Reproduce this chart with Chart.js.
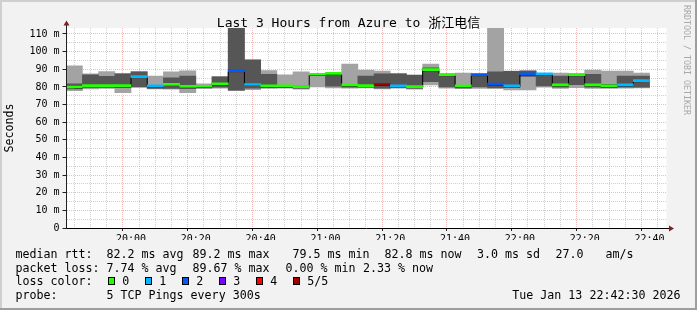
<!DOCTYPE html>
<html><head><meta charset="utf-8"><title>Last 3 Hours from Azure to 浙江电信</title>
<style>
    body { margin: 0; background: #fff; }
    #wrap {
        position: relative;
        width: 697px;
        height: 310px;
        background: #f2f2f2;
        font-family: "DejaVu Sans Mono", monospace;
        color: #000;
        overflow: hidden;
    }
    #chartBox { position: absolute; left: 0; top: 0; width: 697px; height: 310px; }
    .edge { position: absolute; }
    .title {
        position: absolute; left: 0; top: 16px; width: 697px;
        text-align: center; font-size: 13px; line-height: 13px;
        font-family: "DejaVu Sans Mono", "Noto Sans CJK SC", monospace;
        white-space: pre;
    }
    .side {
        position: absolute; left: 682px; top: 5px;
        writing-mode: vertical-rl; font-size: 8.3px; line-height: 9px;
        color: #a8a8a8; white-space: pre;
    }
    .row { position: absolute; left: 0; width: 697px; height: 14px; font-size: 11.65px; line-height: 14px; }
    .row span { position: absolute; top: 0; white-space: pre; }
    .row .box { top: 3px; width: 5px; height: 6px; border: 1px solid #000; }
</style>
<script src="https://cdn.jsdelivr.net/npm/chart.js"></script>
</head>
<body>
<div id="wrap">
    <div id="chartBox"><canvas id="smoke"></canvas></div>
    <div class="title">Last 3 Hours from Azure to 浙江电信</div>
    <div class="side">RRDTOOL / TOBI OETIKER</div>
    <div class="row" style="top:246.7px">
        <span style="left:15.5px">median rtt:</span>
        <span style="left:106.5px">82.2 ms avg</span>
        <span style="left:192.5px">89.2 ms max</span>
        <span style="left:292.5px">79.5 ms min</span>
        <span style="left:384.5px">82.8 ms now</span>
        <span style="left:477px">3.0 ms sd</span>
        <span style="left:555.5px">27.0</span>
        <span style="left:605.5px">am/s</span>
    </div>
    <div class="row" style="top:260.6px">
        <span style="left:15.5px">packet loss:</span>
        <span style="left:106.5px">7.74 % avg</span>
        <span style="left:192.5px">89.67 % max</span>
        <span style="left:285.5px">0.00 % min</span>
        <span style="left:363px">2.33 % now</span>
    </div>
    <div class="row" id="lossRow" style="top:274.4px">
        <span style="left:15.5px">loss color:</span>
    </div>
    <div class="row" style="top:288.3px">
        <span style="left:15.5px">probe:</span>
        <span style="left:106.5px">5 TCP Pings every 300s</span>
        <span style="right:16.5px">Tue Jan 13 22:42:30 2026</span>
    </div>
    <div class="edge" style="left:0;top:0;width:697px;height:2px;background:#cfcfcf"></div>
    <div class="edge" style="left:0;top:0;width:2px;height:310px;background:#cfcfcf"></div>
    <div class="edge" style="left:0;top:308px;width:697px;height:2px;background:#9e9e9e"></div>
    <div class="edge" style="left:695px;top:0;width:2px;height:310px;background:#9e9e9e"></div>
</div>

<script>
// 5 minute slots (start time of each step)
const slots = [
    '19:40', '19:45', '19:50', '19:55', '20:00', '20:05', '20:10', '20:15', '20:20',
    '20:25', '20:30', '20:35', '20:40', '20:45', '20:50', '20:55', '21:00', '21:05',
    '21:10', '21:15', '21:20', '21:25', '21:30', '21:35', '21:40', '21:45', '21:50',
    '21:55', '22:00', '22:05', '22:10', '22:15', '22:20', '22:25', '22:30', '22:35'
];

// sorted ping values per slot (ms)
const pingMin = [77.9, 78.9, 79.1, 76.8, 79.8, 78.9, 78.7, 76.8, 79.2, 79.3, 77.9, 78.5,
                 79.2, 79.3, 78.7, 80.0, 79.4, 79.3, 79.4, 78.8, 79.3, 78.7, 81.1, 79.3,
                 79.0, 79.1, 79.0, 78.3, 78.3, 79.8, 79.2, 79.6, 79.2, 79.2, 79.3, 79.4];
const pingQ1  = [78.8, 79.7, 79.7, 79.5, 80.0, 79.2, 79.2, 79.0, 79.4, 79.8, 78.2, 79.3,
                 79.6, 79.6, 79.3, 86.4, 80.4, 79.8, 79.8, 79.3, 79.8, 79.3, 83.0, 80.0,
                 79.4, 80.0, 79.6, 79.5, 86.0, 80.6, 79.8, 81.3, 79.8, 79.6, 79.8, 79.8];
const pingMed = [79.4, 80.2, 80.2, 80.2, 85.3, 80.1, 80.9, 79.7, 79.8, 81.2, 88.7, 80.8,
                 80.0, 80.0, 79.6, 86.6, 87.1, 80.6, 80.2, 80.8, 80.0, 79.6, 89.2, 86.4,
                 80.0, 86.4, 81.0, 80.0, 86.8, 86.8, 80.6, 86.4, 80.6, 80.0, 80.6, 83.0];
const pingQ3  = [81.7, 86.8, 86.0, 87.4, 88.5, 80.7, 85.1, 86.2, 80.6, 85.7, 130.0, 95.2,
                 87.2, 80.8, 80.4, 86.8, 87.3, 81.0, 86.2, 87.4, 87.4, 86.6, 90.8, 86.8,
                 80.5, 87.2, 88.5, 88.8, 89.0, 87.0, 86.2, 87.0, 87.2, 81.5, 86.2, 86.2];
const pingMax = [91.9, 87.4, 88.7, 87.6, 88.7, 86.2, 88.6, 89.1, 81.7, 85.9, 135.0, 95.5,
                 89.2, 86.8, 88.5, 87.0, 87.6, 93.0, 89.6, 89.0, 87.6, 86.8, 93.0, 87.5,
                 87.9, 87.4, 125.0, 89.0, 89.2, 87.2, 87.9, 87.6, 89.6, 89.0, 89.0, 87.9];
// lost pings per slot (of 5)
const lossCount = [0, 0, 0, 0, 1, 1, 0, 0, 0, 0, 2, 1, 0, 0, 0, 0, 0, 0,
                   0, 5, 1, 0, 0, 0, 0, 2, 2, 1, 2, 1, 0, 0, 0, 0, 1, 1];

const lossLabels = ['0', '1', '2', '3', '4', '5/5'];
const lossColors = ['#26ff00', '#00b8ff', '#0059ff', '#7e00ff', '#ff0000', '#a10000'];

const xTickLabels = ['20:00', '20:20', '20:40', '21:00', '21:20', '21:40', '22:00', '22:20', '22:40'];
const yTickLabels = ['0', '10 m', '20 m', '30 m', '40 m', '50 m', '60 m', '70 m', '80 m', '90 m', '100 m', '110 m'];

const viewStart = '19:42:40';
const viewEnd = '22:42:40';
const yMax = 113.4;

const toMin = s => {
    const p = s.split(':').map(Number);
    return p[0] * 60 + p[1] + (p[2] || 0) / 60;
};
const fmtMin = v => {
    const h = Math.floor(v / 60), m = Math.round(v % 60);
    return String(h).padStart(2, '0') + ':' + String(m).padStart(2, '0');
};

const step = 5;
const centers = slots.map(s => toMin(s) + step / 2);

// loss colour legend
const lossRow = document.getElementById('lossRow');
const boxX = [108, 145, 182, 219, 256, 293];
lossLabels.forEach((lab, i) => {
    const b = document.createElement('span');
    b.className = 'box';
    b.style.left = boxX[i] + 'px';
    b.style.background = lossColors[i];
    lossRow.appendChild(b);
    const t = document.createElement('span');
    t.style.left = (boxX[i] + 14.3) + 'px';
    t.textContent = lab;
    lossRow.appendChild(t);
});

const gridMinor = 'rgba(143,143,143,0.42)';
const gridMajor = 'rgba(222,79,79,0.38)';
const axisColor = '#1f1f1f';
const arrowColor = '#801f1f';
const monoFont = '"DejaVu Sans Mono", monospace';
const clear = 'rgba(0,0,0,0)';

const isMajorX = v => xTickLabels.includes(fmtMin(v));
const isMajorY = v => Math.abs(v % 10) < 1e-6;
const tickVal = c => (c && c.tick) ? c.tick.value : null;

const frame = {
    id: 'frame',
    beforeDraw(chart) {
        const a = chart.chartArea, ctx = chart.ctx;
        ctx.save();
        ctx.fillStyle = '#fff';
        ctx.fillRect(a.left, a.top, a.right - a.left, a.bottom - a.top);
        ctx.restore();
    },
    afterDraw(chart) {
        const a = chart.chartArea, ctx = chart.ctx;
        const x0 = Math.floor(a.left) + 0.5, y0 = Math.floor(a.bottom) + 0.5;
        ctx.save();
        ctx.lineWidth = 1;
        ctx.strokeStyle = axisColor;
        ctx.beginPath();
        ctx.moveTo(x0, a.top); ctx.lineTo(x0, a.top - 4);
        ctx.stroke();
        ctx.strokeStyle = '#000';
        ctx.beginPath();
        ctx.moveTo(a.right, y0); ctx.lineTo(a.right + 3, y0);
        ctx.stroke();
        ctx.fillStyle = arrowColor;
        ctx.beginPath();
        ctx.moveTo(x0 - 3, a.top - 2.5); ctx.lineTo(x0 + 3, a.top - 2.5); ctx.lineTo(x0, a.top - 7.5);
        ctx.closePath(); ctx.fill();
        ctx.beginPath();
        ctx.moveTo(a.right + 2.5, y0 - 3); ctx.lineTo(a.right + 2.5, y0 + 3); ctx.lineTo(a.right + 7.5, y0);
        ctx.closePath(); ctx.fill();
        ctx.restore();
    }
};

const barCommon = { type: 'bar', grouped: false, barPercentage: 1, categoryPercentage: 1, borderWidth: 0 };

new Chart(document.getElementById('smoke'), {
    data: {
        datasets: [
            Object.assign({
                label: 'median',
                data: centers.map((x, i) => ({ x: x, y: [pingMed[i], pingMed[i]] })),
                backgroundColor: lossCount.map(c => lossColors[c]),
                minBarLength: 2,
                order: 0
            }, barCommon),
            {
                type: 'line',
                label: 'median step',
                data: centers.map((x, i) => ({ x: x, y: pingMed[i] })),
                stepped: 'middle',
                borderColor: '#000',
                borderWidth: 1,
                pointRadius: 0,
                order: 1
            },
            Object.assign({
                label: 'inner smoke',
                data: centers.map((x, i) => ({ x: x, y: [pingQ1[i], pingQ3[i]] })),
                backgroundColor: '#565656',
                order: 2
            }, barCommon),
            Object.assign({
                label: 'outer smoke',
                data: centers.map((x, i) => ({ x: x, y: [pingMin[i], pingMax[i]] })),
                backgroundColor: '#a3a3a3',
                order: 3
            }, barCommon)
        ]
    },
    options: {
        responsive: true,
        maintainAspectRatio: false,
        devicePixelRatio: 1,
        animation: false,
        events: [],
        layout: { padding: { top: 28, right: 30.5, bottom: 70, left: 0 } },
        plugins: { legend: { display: false }, tooltip: { enabled: false }, title: { display: false } },
        scales: {
            x: {
                type: 'linear',
                min: toMin(viewStart),
                max: toMin(viewEnd),
                afterBuildTicks(scale) {
                    const t = [];
                    for (let v = Math.ceil(scale.min / step) * step; v < scale.max; v += step) t.push({ value: v });
                    scale.ticks = t;
                },
                afterFit(scale) { scale.height = 12; },
                ticks: {
                    autoSkip: false, maxRotation: 0, minRotation: 0, padding: 2,
                    color: '#000',
                    font: { family: monoFont, size: 10 },
                    callback: v => isMajorX(v) ? fmtMin(v) : ''
                },
                grid: {
                    color: c => { const v = tickVal(c); return v === null ? gridMinor : (isMajorX(v) ? gridMajor : gridMinor); },
                    tickColor: c => { const v = tickVal(c); return v !== null && isMajorX(v) ? axisColor : clear; },
                    tickLength: 3
                },
                border: { color: '#000', dash: [1, 1], z: 1 }
            },
            y: {
                min: 0,
                max: yMax,
                afterBuildTicks(scale) {
                    const t = [];
                    for (let v = 0; v <= scale.max; v += step) t.push({ value: v });
                    scale.ticks = t;
                },
                afterFit(scale) { scale.width = 66.5; },
                ticks: {
                    autoSkip: false, padding: 3,
                    color: '#000',
                    font: { family: monoFont, size: 10 },
                    callback: v => isMajorY(v) ? yTickLabels[Math.round(v / 10)] : ''
                },
                grid: {
                    color: c => { const v = tickVal(c); return v === null ? gridMinor : (isMajorY(v) ? gridMajor : gridMinor); },
                    tickColor: c => { const v = tickVal(c); return v !== null && isMajorY(v) ? axisColor : clear; },
                    tickLength: 4
                },
                border: { color: axisColor, dash: [1, 1], z: 1 },
                title: {
                    display: true, text: 'Seconds', color: '#000',
                    font: { family: monoFont, size: 11.65 },
                    padding: { top: 3, bottom: 0 }
                }
            }
        }
    },
    plugins: [frame]
});
</script>
</body></html>
